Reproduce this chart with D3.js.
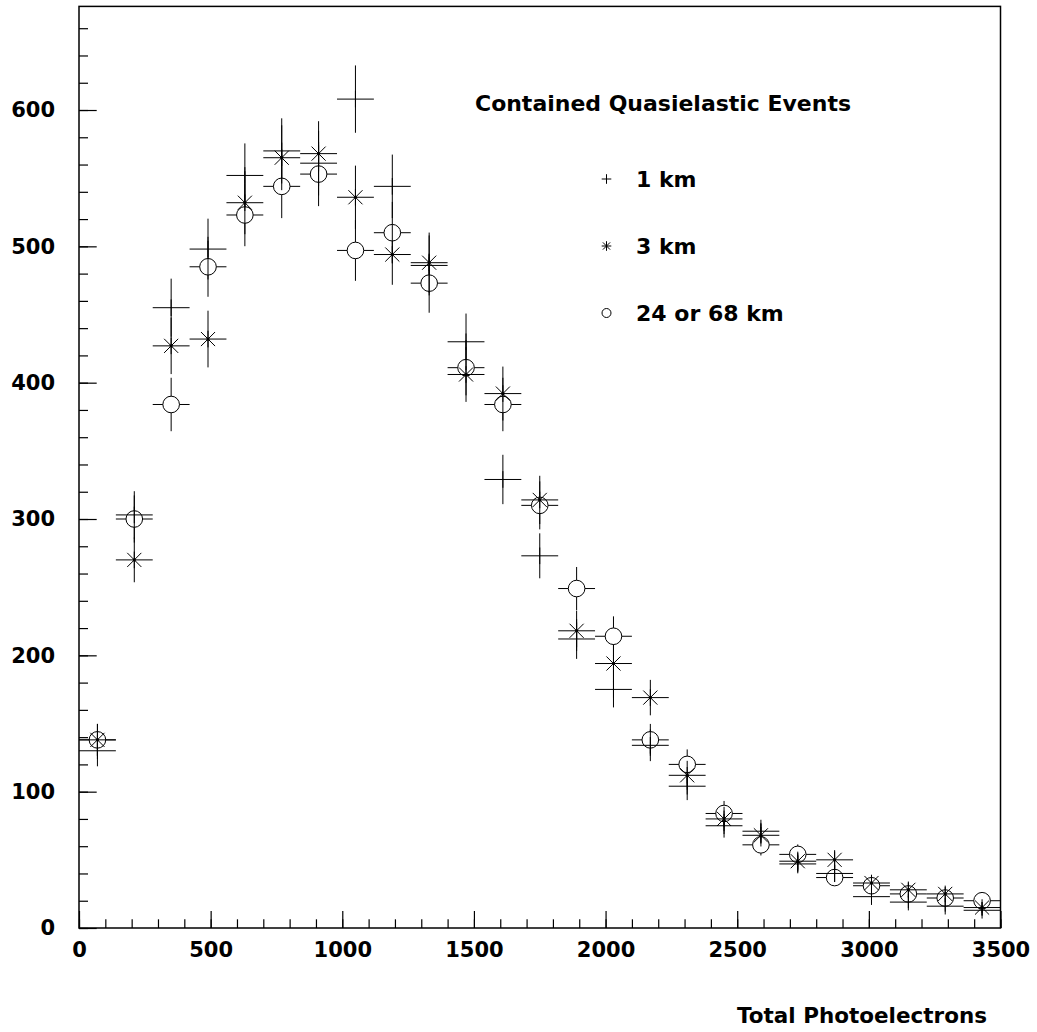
<!DOCTYPE html>
<html><head><meta charset="utf-8">
<script src="https://cdn.jsdelivr.net/npm/d3@7"></script>
<style>body{margin:0;background:#fff}svg{display:block}</style>
</head><body><svg id="c" width="1037" height="1032"></svg>
<script>
// ---- data ----
const binCenters = [70,210,350,490,630,770,910,1050,1190,1330,1470,1610,1750,1890,2030,2170,2310,2450,2590,2730,2870,3010,3150,3290,3430];
const binHalfWidth = 70;
const km1 = [130,303,455,498,552,570,561,608,544,486,430,329,273,212,175,134,104,75,71,47,40,23,19,16,13];
const km1Err = [11.4,17.4,21.3,22.3,23.5,23.9,23.7,24.7,23.3,22.0,20.7,18.1,16.5,14.6,13.2,11.6,10.2,8.7,8.4,6.9,6.3,4.8,4.4,4.0,3.6];
const km3 = [138,270,427,432,532,565,568,536,494,488,406,392,314,218,194,169,112,80,68,49,50,33,28,25,15];
const km3Err = [11.7,16.4,20.7,20.8,23.1,23.8,23.8,23.2,22.2,22.1,20.1,19.8,17.7,14.8,13.9,13.0,10.6,8.9,8.2,7.0,7.1,5.7,5.3,5.0,3.9];
const km24 = [138,300,384,485,523,544,553,497,510,473,411,384,310,249,214,138,120,84,61,54,37,31,25,22,20];
const km24Err = [11.7,17.3,19.6,22.0,22.9,23.3,23.5,22.3,22.6,21.7,20.3,19.6,17.6,15.8,14.6,11.7,11.0,9.2,7.8,7.3,6.1,5.6,5.0,4.7,4.5];
const xTicks = [0,500,1000,1500,2000,2500,3000,3500];
const yTicks = [0,100,200,300,400,500,600];
const seriesNames = ["1 km","3 km","24 or 68 km"];
const legendTitle = "Contained Quasielastic Events";
const xTitle = "Total Photoelectrons";

// ---- drawing ----
const svg = d3.select("#c");
const FONT = "'DejaVu Sans', sans-serif";
const x = d3.scaleLinear().domain([0,3500]).range([79,1000.5]);
const y = d3.scaleLinear().domain([0,676]).range([928,6.4]);

// minor ticks
svg.append("g").attr("transform","translate(79,0)")
  .call(d3.axisLeft(y).tickValues(d3.range(0,661,20)).tickSize(-9).tickFormat(""))
  .call(g=>g.select(".domain").remove());
svg.append("g").attr("transform","translate(0,928)")
  .call(d3.axisBottom(x).tickValues(d3.range(0,3501,100)).tickSize(-8.7).tickFormat(""))
  .call(g=>g.select(".domain").remove());
// major ticks
svg.append("g").attr("transform","translate(79,0)")
  .call(d3.axisLeft(y).tickValues(yTicks).tickSize(-17.7).tickPadding(24).tickFormat(d3.format("d")))
  .call(g=>g.select(".domain").remove());
svg.append("g").attr("transform","translate(0,928)")
  .call(d3.axisBottom(x).tickValues(xTicks).tickSize(-17).tickPadding(14).tickFormat(d3.format("d")))
  .call(g=>g.select(".domain").remove());
svg.selectAll(".tick line").attr("stroke","#000").attr("stroke-width",1.2);
svg.selectAll(".tick text").attr("font-family",FONT).attr("font-size",21).attr("font-weight","bold").attr("fill","#000");

// frame
svg.append("rect").attr("x",79).attr("y",6.4).attr("width",1000.5-79).attr("height",928-6.4)
  .attr("fill","none").attr("stroke","#000").attr("stroke-width",1.5);

const g = svg.append("g").attr("stroke","#000").attr("stroke-width",1).attr("fill","none");
const R = 8.3;
function seg(x1,y1,x2,y2){ g.append("line").attr("x1",x1).attr("y1",y1).attr("x2",x2).attr("y2",y2); }

function drawSeries(vals, errs, type){
  vals.forEach((v,i)=>{
    const cx = x(binCenters[i]), cy = y(v);
    const xl = x(binCenters[i]-binHalfWidth), xr = x(binCenters[i]+binHalfWidth);
    const yt = y(v+errs[i]), yb = y(v-errs[i]);
    if(type==="circle"){
      seg(xl,cy,cx-R,cy); seg(cx+R,cy,xr,cy);
      if(yt < cy-R) seg(cx,yt,cx,cy-R);
      if(yb > cy+R) seg(cx,cy+R,cx,yb);
      g.append("circle").attr("cx",cx).attr("cy",cy).attr("r",R);
    } else {
      seg(xl,cy,xr,cy);
      seg(cx,yt,cx,yb);
      seg(cx,cy-R,cx,cy+R);
      if(type==="star"){
        const d = R*0.85;
        seg(cx-d,cy-d,cx+d,cy+d); seg(cx-d,cy+d,cx+d,cy-d);
        svg.append("circle").attr("cx",cx).attr("cy",cy).attr("r",1.6).attr("fill","#000");
      }
    }
  });
}
drawSeries(km24, km24Err, "circle");
drawSeries(km3, km3Err, "star");
drawSeries(km1, km1Err, "plus");

// legend
const txt = (t,xx,yy,anchor,len,fs)=>{
  const e = svg.append("text").attr("x",xx).attr("y",yy).attr("font-family",FONT).attr("font-size",fs||21)
    .attr("font-weight","bold").attr("fill","#000").attr("text-anchor",anchor||"start").text(t);
  if(len) e.attr("textLength",len).attr("lengthAdjust","spacingAndGlyphs");
  return e;
};
txt(legendTitle,475,111,"start",376,22);
const ly = [179,246,313];
const lx = 606.5, lr = 4.8;
seg(lx-lr,ly[0],lx+lr,ly[0]); seg(lx,ly[0]-lr,lx,ly[0]+lr);
seg(lx-lr,ly[1],lx+lr,ly[1]); seg(lx,ly[1]-lr,lx,ly[1]+lr);
seg(lx-lr*0.75,ly[1]-lr*0.75,lx+lr*0.75,ly[1]+lr*0.75); seg(lx-lr*0.75,ly[1]+lr*0.75,lx+lr*0.75,ly[1]-lr*0.75);
g.append("circle").attr("cx",lx).attr("cy",ly[2]).attr("r",4.5);
seriesNames.forEach((n,i)=>txt(n,636,ly[i]+8,"start",null,22));
txt(xTitle,987,1023,"end",250,22);
</script></body></html>
